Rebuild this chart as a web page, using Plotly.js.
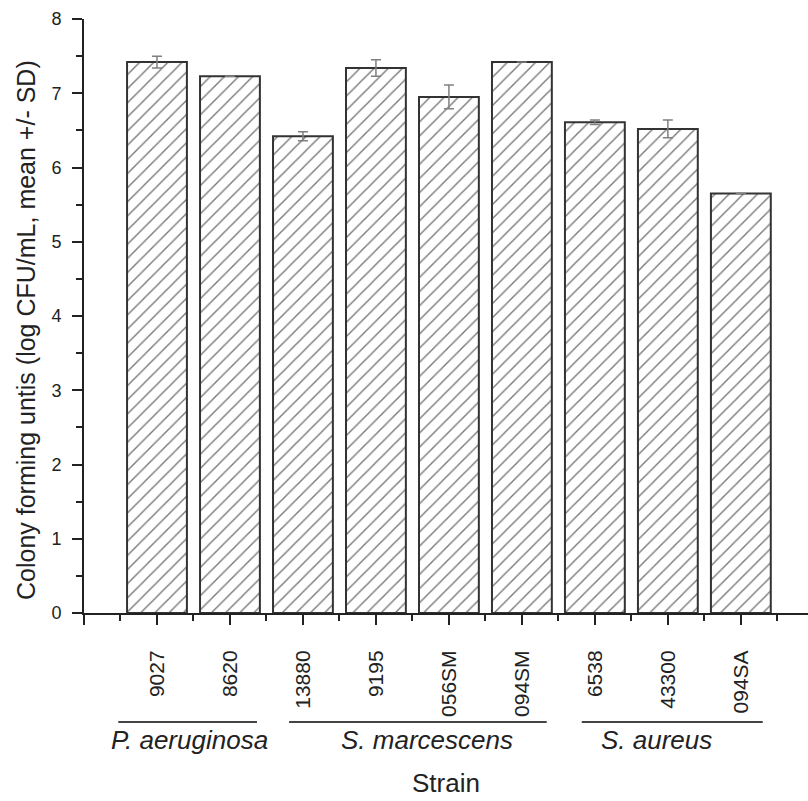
<!DOCTYPE html>
<html>
<head>
<meta charset="utf-8">
<script src="https://cdn.plot.ly/plotly-3.0.1.min.js"></script>
<style>html,body{margin:0;padding:0;background:#fff;}#chart{width:808px;height:801px;}</style>
</head>
<body>
<div id="chart"></div>
<script>
// ---- data ----
const strains = ["9027", "8620", "13880", "9195", "056SM", "094SM", "6538", "43300", "094SA"];
const meanLogCFU = [7.42, 7.23, 6.42, 7.34, 6.95, 7.42, 6.61, 6.52, 5.65];
const sdLogCFU = [0.08, 0.0, 0.06, 0.11, 0.16, 0.0, 0.03, 0.12, 0.0];
const groupNames = ["P. aeruginosa", "S. marcescens", "S. aureus"];
const yTitle = "Colony forming untis (log CFU/mL, mean +/- SD)";
const xTitle = "Strain";

const pos = strains.map((_, i) => i);
const majorTicks = [-1].concat(pos);
const majorText = [""].concat(strains);
const minorTicks = pos.map(p => p - 0.5).concat([pos[pos.length - 1] + 0.5]);

const FONT = "Liberation Sans, Arial, Helvetica, sans-serif";
const INK = "#222";

const trace = {
  type: "bar",
  x: pos,
  y: meanLogCFU,
  width: 0.82,
  marker: {
    color: "#ffffff",
    line: {color: "#333", width: 2},
    pattern: {shape: "/", fgcolor: "#7a7a7a", bgcolor: "#ffffff", size: 10, solidity: 0.14, fillmode: "replace"}
  },
  error_y: {type: "data", array: sdLogCFU, visible: true, color: "#808080", thickness: 1.5, width: 5},
  hoverinfo: "x+y"
};

// group underline positions (data coords)
const lineStart = [-0.53, 1.81, 5.82];
const lineEnd = [1.37, 5.34, 8.30];
const labelX = [0.44, 3.70, 6.84];

const shapes = groupNames.map((g, k) => ({
  type: "line", xref: "x", yref: "paper",
  x0: lineStart[k], x1: lineEnd[k], y0: -0.1835, y1: -0.1835,
  line: {color: "#444", width: 2}
}));

const annotations = groupNames.map((g, k) => ({
  xref: "x", yref: "paper", x: labelX[k], y: -0.214,
  text: "<i>" + g + "</i>", showarrow: false,
  font: {family: FONT, size: 26, color: INK},
  xanchor: "center", yanchor: "middle"
}));

annotations.push({
  xref: "paper", yref: "paper", x: -0.0801, y: 0.4764,
  text: yTitle, showarrow: false, textangle: -90,
  font: {family: FONT, size: 25, color: INK},
  xanchor: "center", yanchor: "middle"
});

const layout = {
  width: 808, height: 801,
  margin: {l: 84, r: 0, t: 19, b: 188},
  paper_bgcolor: "#fff", plot_bgcolor: "#fff",
  showlegend: false,
  font: {family: FONT, color: INK},
  xaxis: {
    range: [-1, 8.92], showgrid: false, zeroline: false,
    showline: true, linecolor: "#222", linewidth: 2,
    tickmode: "array", tickvals: majorTicks, ticktext: majorText,
    ticks: "outside", ticklen: 10, tickwidth: 2, tickcolor: "#222",
    tickangle: -90, ticklabelstandoff: 17,
    tickfont: {family: FONT, size: 21, color: INK},
    minor: {tickmode: "array", tickvals: minorTicks, ticks: "outside", ticklen: 6, tickwidth: 2, tickcolor: "#222", showgrid: false},
    title: {text: xTitle, font: {family: FONT, size: 26, color: INK}, standoff: 58}
  },
  yaxis: {
    range: [0, 8], showgrid: false, zeroline: false,
    showline: true, linecolor: "#222", linewidth: 2,
    tickmode: "linear", tick0: 0, dtick: 1,
    ticks: "outside", ticklen: 10, tickwidth: 2, tickcolor: "#222",
    ticklabelstandoff: 7,
    tickfont: {family: FONT, size: 18, color: INK},
    minor: {dtick: 0.5, ticks: "outside", ticklen: 6, tickwidth: 2, tickcolor: "#222", showgrid: false}
  },
  shapes: shapes,
  annotations: annotations
};

Plotly.newPlot("chart", [trace], layout, {staticPlot: true, displayModeBar: false});
</script>
</body>
</html>
